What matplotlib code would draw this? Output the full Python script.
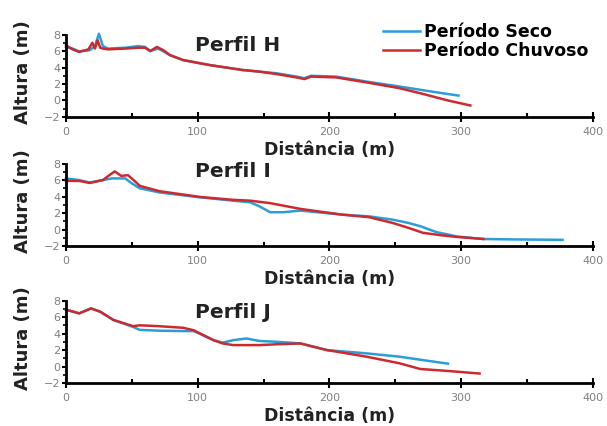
import numpy as np
import matplotlib
matplotlib.use("Agg")
import matplotlib.pyplot as plt
from matplotlib.ticker import MultipleLocator

###########--data--#########################################

# Perfil H
h_seco_x = [0, 5, 10, 18, 22, 25, 28, 32, 45, 55, 60, 64, 70, 79, 89, 109, 134, 147, 160,
            175, 181, 186, 205, 228, 253, 271, 285, 298]
h_seco_y = [6.5, 6.3, 5.95, 6.1, 6.6, 8.1, 6.6, 6.3, 6.4, 6.6, 6.5, 6.0, 6.3, 5.5, 4.9, 4.3,
            3.7, 3.5, 3.3, 2.9, 2.7, 3.0, 2.9, 2.3, 1.7, 1.25, 0.9, 0.6]
h_chuv_x = [0, 5, 10, 17, 20, 22, 24, 26, 28, 32, 45, 55, 60, 64, 69, 74, 79, 89, 109, 134,
            147, 160, 175, 181, 186, 205, 228, 253, 271, 290, 307]
h_chuv_y = [6.7, 6.2, 5.9, 6.2, 7.0, 6.3, 7.3, 6.4, 6.3, 6.2, 6.3, 6.4, 6.4, 6.0, 6.5, 6.1,
            5.5, 4.9, 4.3, 3.7, 3.5, 3.2, 2.8, 2.6, 2.9, 2.8, 2.2, 1.5, 0.8, 0.0, -0.6]

# Perfil I
i_seco_x = [0, 10, 18, 28, 35, 45, 50, 56, 71, 102, 127, 140, 147, 155, 165, 178, 210, 230,
            248, 260, 269, 281, 297, 317, 340, 377]
i_seco_y = [6.2, 6.0, 5.7, 6.0, 6.2, 6.2, 5.6, 5.0, 4.5, 3.9, 3.5, 3.3, 2.8, 2.1, 2.1, 2.3,
            1.8, 1.6, 1.2, 0.8, 0.4, -0.3, -0.85, -1.15, -1.2, -1.25]
i_chuv_x = [0, 10, 18, 28, 33, 37, 42, 47, 52, 56, 71, 102, 127, 140, 155, 178, 210, 230,
            248, 260, 271, 285, 297, 317]
i_chuv_y = [5.9, 5.9, 5.65, 6.0, 6.6, 7.05, 6.5, 6.6, 5.9, 5.3, 4.65, 3.95, 3.6, 3.5, 3.2,
            2.5, 1.8, 1.5, 0.8, 0.2, -0.4, -0.7, -0.9, -1.15]

# Perfil J
j_seco_x = [0, 10, 19, 26, 36, 51, 56, 70, 89, 97, 112, 119, 127, 137, 147, 160, 178, 198,
            228, 253, 270, 290]
j_seco_y = [6.9, 6.45, 7.05, 6.65, 5.65, 4.8, 4.45, 4.35, 4.3, 4.3, 3.2, 2.9, 3.2, 3.4, 3.1,
            3.0, 2.8, 2.0, 1.6, 1.2, 0.8, 0.35]
j_chuv_x = [0, 10, 19, 26, 36, 51, 56, 70, 89, 97, 112, 119, 127, 147, 160, 178, 198, 228,
            253, 269, 291, 314]
j_chuv_y = [6.9, 6.45, 7.05, 6.65, 5.65, 4.9, 5.0, 4.9, 4.7, 4.4, 3.2, 2.8, 2.6, 2.6, 2.7,
            2.8, 2.0, 1.2, 0.4, -0.3, -0.55, -0.85]

profiles = [
    ("Perfil H", h_seco_x, h_seco_y, h_chuv_x, h_chuv_y, 6.7),
    ("Perfil I", i_seco_x, i_seco_y, i_chuv_x, i_chuv_y, 7.0),
    ("Perfil J", j_seco_x, j_seco_y, j_chuv_x, j_chuv_y, 6.5),
]

blue = "#2b9dd8"
red = "#cc2a2e"
gray = "#808080"

fig = plt.figure(figsize=(6.07, 4.26), dpi=100)
bottoms = [0.7254, 0.4225, 0.1009]

for k, (name, sx, sy, cx, cy, ty) in enumerate(profiles):
    ax = fig.add_axes([0.1087, bottoms[k], 0.868, 0.1935])
    l1, = ax.plot(sx, sy, color=blue, lw=1.8, clip_on=False, label="Período Seco")
    l2, = ax.plot(cx, cy, color=red, lw=1.8, clip_on=False, label="Período Chuvoso")

    ax.set_xlim(0, 400)
    ax.set_ylim(-2, 8)
    ax.spines["top"].set_visible(False)
    ax.spines["right"].set_visible(False)
    ax.spines["left"].set_linewidth(2)
    ax.spines["bottom"].set_linewidth(2)

    ax.xaxis.set_major_locator(MultipleLocator(100))
    ax.xaxis.set_minor_locator(MultipleLocator(50))
    ax.yaxis.set_major_locator(MultipleLocator(2))
    ax.yaxis.set_minor_locator(MultipleLocator(1))
    ax.tick_params(axis="x", which="major", direction="inout", length=7, width=1.5,
                   labelsize=8, labelcolor=gray, pad=4)
    ax.tick_params(axis="x", which="minor", direction="in", length=3, width=1.5)
    ax.tick_params(axis="y", which="major", direction="out", length=3, width=1.5,
                   labelsize=8, labelcolor=gray, pad=1)
    ax.tick_params(axis="y", which="minor", direction="out", length=2, width=1.2)

    ax.set_xlabel("Distância (m)", fontsize=12.5, fontweight="heavy", color="#222222")
    ax.set_ylabel("Altura (m)", fontsize=13, fontweight="heavy", color="#222222")
    ax.xaxis.set_label_coords(0.5, -0.29)
    ax.yaxis.set_label_coords(-0.0645, 0.55)

    ax.text(98, ty, name, fontsize=14.5, fontweight="heavy", color="#222222",
            ha="left", va="center")

    if k == 0:
        fig.legend(handles=[l1, l2], loc="upper left", bbox_to_anchor=(0.631, 0.945),
                   frameon=False, prop={"weight": "heavy", "size": 12.5},
                   handlelength=2.14, handletextpad=0.23, labelspacing=0.05,
                   borderpad=0, borderaxespad=0)

fig.savefig("out.png", dpi=100)
